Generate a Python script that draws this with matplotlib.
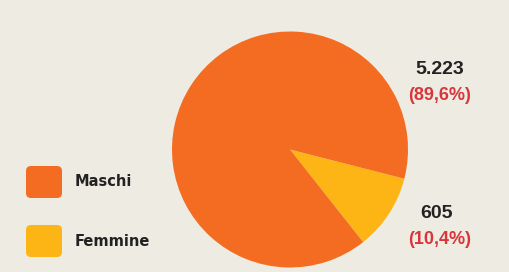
import matplotlib
matplotlib.use('Agg')
import matplotlib.pyplot as plt
from matplotlib.patches import FancyBboxPatch

# data
categories = ['Maschi', 'Femmine']
values = [5223, 605]
value_labels = ['5.223', '605']
pct_labels = ['(89,6%)', '(10,4%)']
colors = ['#F36C21', '#FDB515']

bg = '#EEEBE2'

fig = plt.figure(figsize=(5.09, 2.72), dpi=100, facecolor=bg)
ax = fig.add_axes([0, 0, 1, 1])
ax.set_facecolor(bg)

# pie drawn in pixel-like coordinates (y up), Femmine first so it sits lower right
ax.pie([values[1], values[0]], colors=[colors[1], colors[0]],
       startangle=-51.7, counterclock=True, radius=118, center=(290, 122.5),
       wedgeprops=dict(linewidth=0))

ax.set_xlim(0, 509)
ax.set_ylim(0, 272)
ax.set_aspect('equal')
ax.axis('off')

# value labels
ax.text(440, 202, value_labels[0], ha='center', va='center', fontsize=14,
        fontweight='bold', color='#222222', family='Liberation Sans')
ax.text(440, 176, pct_labels[0], ha='center', va='center', fontsize=13,
        fontweight='bold', color='#D9363C', family='Liberation Sans')
ax.text(437, 59, value_labels[1], ha='center', va='center', fontsize=14,
        fontweight='bold', color='#222222', family='Liberation Sans')
ax.text(440, 33, pct_labels[1], ha='center', va='center', fontsize=13,
        fontweight='bold', color='#D9363C', family='Liberation Sans')

# legend with rounded squares
leg_y = [272 - 182, 272 - 241]
for c, lab, y in zip(colors, categories, leg_y):
    ax.add_patch(FancyBboxPatch((29, y - 13), 30, 26,
                                boxstyle='round,pad=3,rounding_size=5',
                                fc=c, ec='none'))
    ax.text(75, y, lab, ha='left', va='center', fontsize=10.5,
            fontweight='bold', color='#222222')

fig.savefig('out.png', dpi=100, facecolor=bg)
